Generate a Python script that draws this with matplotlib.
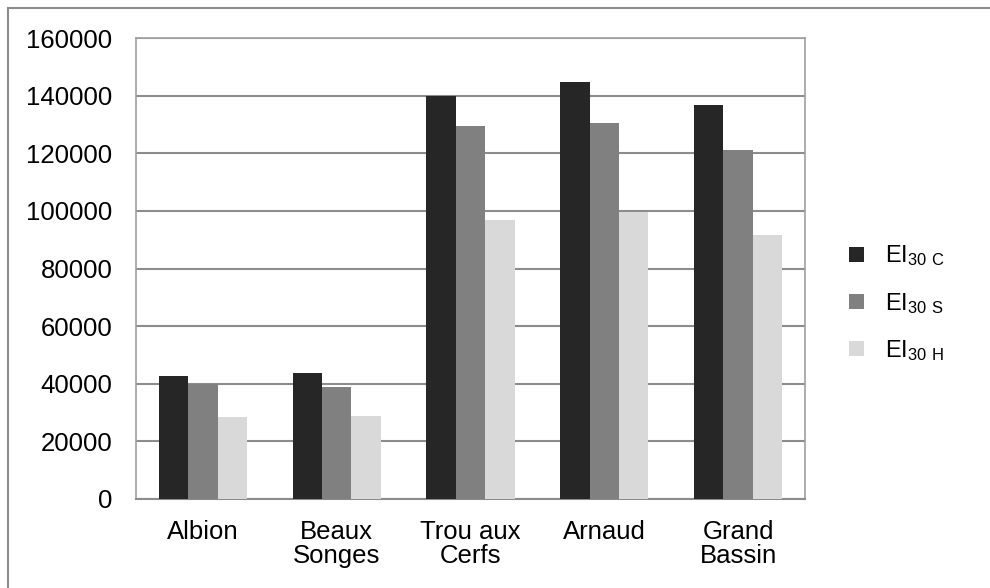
import numpy as np
import matplotlib
matplotlib.use("Agg")
import matplotlib.pyplot as plt
from matplotlib.lines import Line2D

plt.rcParams['font.family'] = ['Liberation Sans', 'DejaVu Sans']
plt.rcParams['mathtext.default'] = 'regular'

# data
sites = ["Albion", "Beaux\nSonges", "Trou aux\nCerfs", "Arnaud", "Grand\nBassin"]
ei30_c = [42800, 43600, 139900, 144600, 136700]
ei30_s = [39800, 39000, 129500, 130400, 121200]
ei30_h = [28400, 28800, 97000, 99700, 91700]
labels = [r"EI$_{30\ C}$", r"EI$_{30\ S}$", r"EI$_{30\ H}$"]
colors = ["#262626", "#808080", "#d9d9d9"]

W, H = 990, 588
fig = plt.figure(figsize=(9.9, 5.88), dpi=100)
ax = fig.add_axes([136 / W, 1 - 499 / H, 669 / W, 461 / H])

x = np.arange(len(sites))
w = 0.22
for i, (vals, lab, col) in enumerate(zip([ei30_c, ei30_s, ei30_h], labels, colors)):
    ax.bar(x + (i - 1) * w, vals, w, color=col, label=lab, zorder=3)

ax.set_xlim(-0.5, len(sites) - 0.5)
ax.set_ylim(0, 160000)
ax.set_yticks(np.arange(0, 160001, 20000))
ax.set_xticks(x)
ax.set_xticklabels(sites, fontsize=18.5, linespacing=1.0)
ax.tick_params(axis='y', labelsize=18.5, length=0, pad=17)
ax.tick_params(axis='x', length=0, pad=15)
ax.yaxis.grid(True, color="#8c8c8c", linewidth=1.5, zorder=0)
for s in ax.spines.values():
    s.set_color("#a0a0a0")
    s.set_linewidth(1.2)
ax.spines['bottom'].set_color("#8c8c8c")
ax.spines['bottom'].set_linewidth(1.5)

fig.legend(loc='upper left', bbox_to_anchor=(840 / W, 1 - 234 / H),
           frameon=False, fontsize=17, handlelength=0.6, handleheight=0.6,
           handletextpad=0.9, labelspacing=0.95, borderaxespad=0)

# outer frame (top and left edges only)
fig.add_artist(Line2D([8 / W, 1], [1 - 8 / H, 1 - 8 / H], transform=fig.transFigure,
                      color="#8c8c8c", linewidth=1.5))
fig.add_artist(Line2D([8 / W, 8 / W], [0, 1 - 8 / H], transform=fig.transFigure,
                      color="#8c8c8c", linewidth=1.5))

fig.savefig("out.png", dpi=100)
